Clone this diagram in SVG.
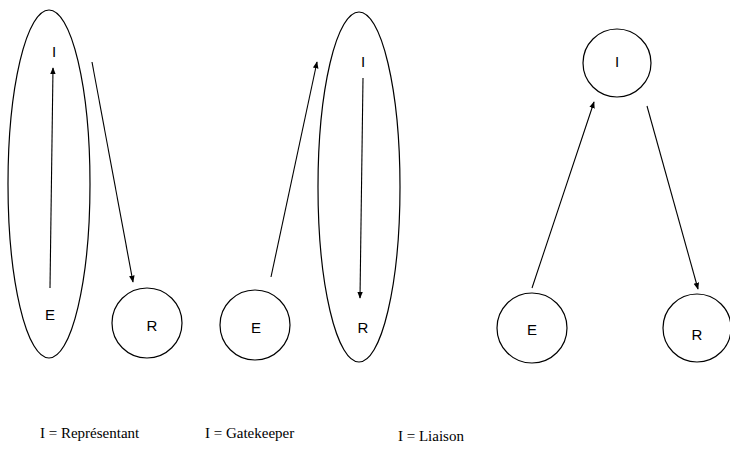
<svg xmlns="http://www.w3.org/2000/svg" width="730" height="451" viewBox="0 0 730 451">
<style>
.shape{fill:none;stroke:#000;stroke-width:1.2}
.lbl{font-family:"Liberation Sans",Arial,sans-serif;font-size:15px;fill:#000;text-anchor:middle}
.cap{font-family:"Liberation Serif","Times New Roman",serif;font-size:15px;fill:#000}
.conn line{stroke:#000;stroke-width:1.1;marker-end:url(#ah)}
</style>
<defs>
<marker id="ah" viewBox="0 0 10 10" refX="9" refY="5" markerWidth="7" markerHeight="7" markerUnits="userSpaceOnUse" orient="auto">
<path d="M0,1 L10,5 L0,9 Z" fill="#000"/>
</marker>
</defs>
<rect width="730" height="451" fill="#fff"/>
<g id="rep-group"><ellipse class="shape" cx="49" cy="184" rx="41" ry="174"/>
<text class="lbl" x="54" y="57">I</text>
<text class="lbl" x="50" y="320">E</text></g>
<g id="rep-R"><circle class="shape" cx="147" cy="323" r="35"/><text class="lbl" x="152" y="331">R</text></g>
<g id="gk-E"><circle class="shape" cx="255" cy="325" r="35"/><text class="lbl" x="256" y="333">E</text></g>
<g id="gk-group"><ellipse class="shape" cx="359" cy="187" rx="41" ry="175"/>
<text class="lbl" x="363" y="67">I</text>
<text class="lbl" x="363" y="333">R</text></g>
<g id="li-I"><circle class="shape" cx="617" cy="63" r="34"/><text class="lbl" x="617" y="67">I</text></g>
<g id="li-E"><circle class="shape" cx="532" cy="328" r="35"/><text class="lbl" x="532" y="335">E</text></g>
<g id="li-R"><circle class="shape" cx="697" cy="328" r="34"/><text class="lbl" x="697" y="340">R</text></g>
<g class="conn">
<line x1="50" y1="288" x2="53" y2="68"/>
<line x1="92" y1="62" x2="133" y2="282"/>
<line x1="271" y1="277" x2="317" y2="62"/>
<line x1="363" y1="78" x2="360" y2="298"/>
<line x1="532" y1="288" x2="594" y2="102"/>
<line x1="647" y1="106" x2="698" y2="289"/>
</g>
<text class="cap" x="40" y="438">I = Représentant</text>
<text class="cap" x="205" y="438">I = Gatekeeper</text>
<text class="cap" x="398" y="441">I = Liaison</text>
</svg>
